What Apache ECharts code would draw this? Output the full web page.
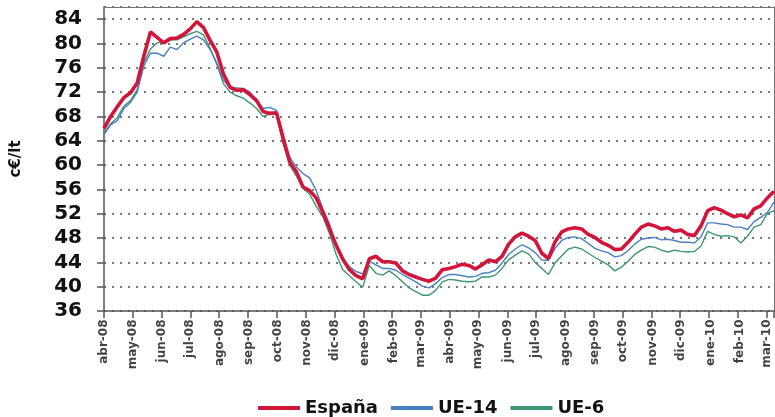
<!DOCTYPE html>
<html>
<head>
<meta charset="utf-8">
<script src="https://cdn.jsdelivr.net/npm/echarts@6/dist/echarts.min.js"></script>
<style>
  html, body { margin: 0; padding: 0; background: #ffffff; }
  #chart { width: 775px; height: 417px; background: #ffffff; }
</style>
</head>
<body>
<div id="chart"></div>
<script>
// Weekly milk prices (c€/lt), first week starting 7 April 2008
const firstWeek = [2008, 4, 7];

const espana = [
  66.0, 68.0, 69.6, 71.1, 71.9, 73.5, 77.9, 81.9, 81.0, 80.1,
  80.8, 80.9, 81.5, 82.4, 83.6, 82.6, 80.5, 78.6, 75.0, 72.8,
  72.3, 72.4, 71.6, 70.6, 68.8, 68.5, 68.6, 64.5, 60.5, 58.9,
  56.4, 55.8, 54.6, 52.2, 49.5, 46.8, 44.5, 42.8, 41.8, 41.3,
  44.6, 45.0, 44.1, 44.1, 43.9, 42.6, 42.0, 41.6, 41.2, 40.9,
  41.4, 42.8, 43.0, 43.3, 43.7, 43.5, 42.9, 43.6, 44.4, 44.1,
  45.0, 47.0, 48.2, 48.8, 48.3, 47.6, 45.5, 44.6, 47.4, 49.0,
  49.5, 49.7, 49.5, 48.6, 48.1, 47.3, 46.8, 46.1, 46.2, 47.3,
  48.6, 49.8, 50.3, 50.0, 49.5, 49.7, 49.1, 49.3, 48.6, 48.4,
  50.0, 52.5, 53.0, 52.6, 52.0, 51.5, 51.8, 51.3, 52.8, 53.3,
  54.6, 55.7
];

const ue14 = [
  65.0, 66.6, 67.3, 69.3, 70.3, 72.0, 76.3, 78.4, 78.4, 77.9,
  79.4, 79.0, 80.1, 80.7, 81.2, 80.6, 79.0, 76.8, 74.0, 72.7,
  72.7, 72.6, 72.0, 70.6, 69.3, 69.5, 69.0, 64.5, 61.3, 59.7,
  58.6, 57.9, 55.8, 52.8, 50.3, 46.8, 44.6, 43.3, 42.5, 42.1,
  44.2, 43.6, 43.0, 43.0, 42.7, 42.0, 41.4, 40.8, 40.1, 39.8,
  40.5, 41.5, 42.0, 42.0, 41.8, 41.6, 41.7, 42.2, 42.3, 42.7,
  43.9, 45.3, 46.2, 46.9, 46.4, 45.6, 44.4, 44.3, 46.3, 47.6,
  48.1, 48.2, 47.9, 47.1, 46.3, 45.9, 45.6, 44.9, 45.1, 45.9,
  47.0, 47.8, 48.0, 48.1, 47.7, 47.8, 47.6, 47.3, 47.3, 47.2,
  48.2, 50.5, 50.5, 50.3, 50.2, 49.8, 49.8, 49.4, 50.7, 51.4,
  52.2, 53.9
];

const ue6 = [
  65.2, 66.8, 67.8, 69.7, 70.6, 72.4, 76.8, 79.1, 80.1, 80.3,
  80.6, 80.6, 81.1, 81.6, 82.0, 81.4, 79.2, 76.6, 73.4, 72.0,
  71.4, 71.0, 70.2, 69.3, 68.0, 68.4, 68.3, 63.5, 60.0, 58.2,
  56.2, 55.2, 53.2, 51.5, 48.7, 45.3, 42.8, 41.8, 40.8, 39.9,
  43.5, 42.2, 41.9, 42.6, 41.8, 40.8, 39.8, 39.2, 38.6, 38.6,
  39.4, 40.8, 41.2, 41.1, 40.9, 40.8, 40.9, 41.6, 41.6, 41.9,
  43.0, 44.4, 45.2, 45.9, 45.4, 44.0, 43.0, 42.0, 43.9, 45.1,
  46.2, 46.5, 46.2, 45.5, 44.8, 44.2, 43.6, 42.6, 43.2, 44.2,
  45.3, 46.0, 46.6, 46.5, 46.0, 45.7, 46.0, 45.8, 45.7, 45.8,
  46.7, 49.1, 48.6, 48.3, 48.4, 48.2, 47.2, 48.3, 49.8, 50.2,
  52.0, 52.5
];

// Month positions on the date axis and their labels
const monthTicks = [
  '2008-04-07', '2008-05-07', '2008-06-07', '2008-07-07', '2008-08-07', '2008-09-07',
  '2008-10-07', '2008-11-07', '2008-12-07', '2009-01-07', '2009-02-07', '2009-03-07',
  '2009-04-07', '2009-05-07', '2009-06-07', '2009-07-07', '2009-08-07', '2009-09-07',
  '2009-10-07', '2009-11-07', '2009-12-07', '2010-01-07', '2010-02-07', '2010-03-07'
];
const monthLabels = [
  'abr-08', 'may-08', 'jun-08', 'jul-08', 'ago-08', 'sep-08',
  'oct-08', 'nov-08', 'dic-08', 'ene-09', 'feb-09', 'mar-09',
  'abr-09', 'may-09', 'jun-09', 'jul-09', 'ago-09', 'sep-09',
  'oct-09', 'nov-09', 'dic-09', 'ene-10', 'feb-10', 'mar-10'
];
const yRange = [36, 86];
const yStep = 4;
const monthStep = 30.4; // average month length in days, used for the tick marks

const seriesNames = ['España', 'UE-14', 'UE-6'];
const seriesColors = ['#d3143b', '#4a7fc0', '#3e9673'];
const unitTitle = 'c€/lt';

const DAY = 86400000;
const origin = Date.UTC(firstWeek[0], firstWeek[1] - 1, firstWeek[2]);
function dayNumber(s) {
  const p = s.split('-').map(Number);
  return Math.round((Date.UTC(p[0], p[1] - 1, p[2]) - origin) / DAY);
}
// x positions are counted in days from the first weekly observation
const weekDays = espana.map((_, i) => 7 * i);
const tickDays = monthTicks.map(dayNumber);
const pair = arr => arr.map((v, i) => [weekDays[i], v]);

const boldFont = 'DejaVu Sans';
const textColor = '#111111';
const axisColor = '#555555';
const frameColor = '#707070';

const chart = echarts.init(document.getElementById('chart'), null, { renderer: 'canvas' });
chart.setOption({
  animation: false,
  grid: { left: 104, right: 1, top: 7, bottom: 106 },
  xAxis: [
    {
      type: 'value',
      min: weekDays[0],
      max: weekDays[weekDays.length - 1],
      interval: monthStep,
      axisLine: { show: true, lineStyle: { color: axisColor, width: 1.5 } },
      axisTick: { show: true, length: 7, lineStyle: { color: axisColor, width: 1.5 } },
      axisLabel: { show: false },
      splitLine: { show: false }
    },
    {
      // top edge of the plot frame
      type: 'value', position: 'top',
      min: weekDays[0], max: weekDays[weekDays.length - 1],
      axisLine: { show: true, onZero: false, lineStyle: { color: frameColor, width: 1 } },
      axisTick: { show: false }, axisLabel: { show: false }, splitLine: { show: false }
    }
  ],
  yAxis: [
    {
      type: 'value',
      min: yRange[0],
      max: yRange[1],
      interval: yStep,
      name: unitTitle,
      nameLocation: 'middle',
      nameGap: 80,
      nameRotate: 90,
      nameTextStyle: { fontFamily: boldFont, fontWeight: 'bold', fontSize: 15, color: textColor },
      axisLine: { show: true, lineStyle: { color: axisColor, width: 1.5 } },
      axisTick: { show: true, length: 7, lineStyle: { color: axisColor, width: 1.5 } },
      axisLabel: {
        showMaxLabel: false,
        margin: 22,
        color: textColor,
        fontFamily: boldFont,
        fontWeight: 'bold',
        fontSize: 20
      },
      splitLine: {
        show: true,
        lineStyle: { color: '#7a7a7a', width: 2, type: [2, 6] }
      }
    },
    {
      // right edge of the plot frame
      type: 'value', position: 'right',
      min: yRange[0], max: yRange[1],
      axisLine: { show: true, onZero: false, lineStyle: { color: frameColor, width: 1 } },
      axisTick: { show: false }, axisLabel: { show: false }, splitLine: { show: false }
    }
  ],
  legend: {
    data: seriesNames,
    left: 253,
    top: 394,
    itemWidth: 42,
    itemHeight: 4,
    itemGap: 13,
    icon: 'rect',
    textStyle: { fontFamily: boldFont, fontWeight: 'bold', fontSize: 18, color: textColor }
  },
  series: [
    {
      // month names under the date axis
      name: 'meses', type: 'scatter', silent: true, z: 1,
      data: tickDays.map(d => [d, yRange[0]]),
      symbolSize: 1,
      itemStyle: { color: 'rgba(0,0,0,0)' },
      label: {
        show: true,
        position: 'bottom',
        distance: 8,
        rotate: 90,
        align: 'right',
        verticalAlign: 'middle',
        color: textColor,
        fontFamily: boldFont,
        fontWeight: 'bold',
        fontSize: 12,
        formatter: p => monthLabels[p.dataIndex]
      }
    },
    {
      name: seriesNames[2], type: 'line', data: pair(ue6), showSymbol: false, z: 2,
      color: seriesColors[2], lineStyle: { width: 1.4, color: seriesColors[2] }
    },
    {
      name: seriesNames[1], type: 'line', data: pair(ue14), showSymbol: false, z: 3,
      color: seriesColors[1], lineStyle: { width: 1.4, color: seriesColors[1] }
    },
    {
      name: seriesNames[0], type: 'line', data: pair(espana), showSymbol: false, z: 4,
      color: seriesColors[0], lineStyle: { width: 3.6, color: seriesColors[0] }
    }
  ]
});
</script>
</body>
</html>
